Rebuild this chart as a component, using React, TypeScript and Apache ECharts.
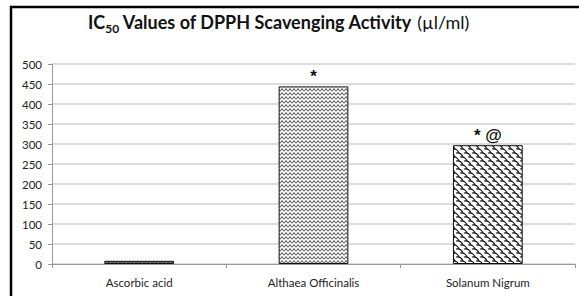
import React, { useEffect, useRef } from "react";
import * as echarts from "echarts";

const categories = ["Ascorbic acid", "Althaea Officinalis", "Solanum Nigrum"];
const values = [8, 444, 297];
const marks = ["", "*", "* @"];
const yTicks = { min: 0, max: 500, interval: 50 };

function makeTile(w: number, h: number, draw: (c: CanvasRenderingContext2D) => void) {
  const cv = document.createElement("canvas");
  cv.width = w;
  cv.height = h;
  const c = cv.getContext("2d")!;
  draw(c);
  return cv;
}

export default function App() {
  const ref = useRef<HTMLDivElement>(null);
  useEffect(() => {
    if (!ref.current) return;
    const chart = echarts.init(ref.current, null, { renderer: "svg" });

    const zigzag = makeTile(4, 4, (c) => {
      c.fillStyle = "#fff";
      c.fillRect(0, 0, 4, 4);
      c.strokeStyle = "#222";
      c.lineWidth = 0.8;
      c.beginPath();
      c.moveTo(0, 3.5);
      c.lineTo(2, 0.5);
      c.lineTo(4, 3.5);
      c.stroke();
    });
    const scales = makeTile(8, 8, (c) => {
      c.fillStyle = "#fff";
      c.fillRect(0, 0, 8, 8);
      c.strokeStyle = "#111";
      c.lineWidth = 1.1;
      for (const [ox, oy] of [[0, 0], [8, 0], [0, 8], [8, 8], [4, 4]]) {
        c.beginPath();
        c.moveTo(ox - 4, oy - 3);
        c.quadraticCurveTo(ox + 1, oy - 4, ox + 3, oy + 1);
        c.stroke();
      }
    });
    const dark = makeTile(4, 4, (c) => {
      c.fillStyle = "#555";
      c.fillRect(0, 0, 4, 4);
      c.fillStyle = "#999";
      c.fillRect(0, 1, 1, 1);
      c.fillRect(2, 2, 1, 1);
    });
    const fills = [dark, zigzag, scales];

    const font = "Lato, 'Open Sans', sans-serif";
    chart.setOption({
      animation: false,
      backgroundColor: "#fff",
      title: {
        left: 83,
        top: 4,
        text: "{a|IC}{b|50}{a| Values of DPPH Scavenging Activity }{c|(µl/ml)}",
        textStyle: {
          rich: {
            a: { fontFamily: font, fontWeight: "bold", fontSize: 18, lineHeight: 26, color: "#111" },
            b: { fontFamily: font, fontWeight: "bold", fontSize: 12, lineHeight: 12, color: "#111", verticalAlign: "top", padding: [13, 0, 0, 0] },
            c: { fontFamily: font, fontWeight: "normal", fontSize: 18, lineHeight: 26, color: "#111" },
          },
        },
      },
      grid: { left: 52, right: 4, top: 64, bottom: 32, containLabel: false },
      xAxis: {
        type: "category",
        data: categories,
        axisLine: { lineStyle: { color: "#999", width: 1 } },
        axisTick: { show: true, alignWithLabel: false, length: 4, lineStyle: { color: "#999" } },
        axisLabel: { fontFamily: font, fontSize: 11.5, color: "#222", margin: 12 },
      },
      yAxis: {
        type: "value",
        min: yTicks.min,
        max: yTicks.max,
        interval: yTicks.interval,
        axisLine: { show: true, lineStyle: { color: "#999" } },
        axisTick: { show: true, length: 4, lineStyle: { color: "#999" } },
        axisLabel: { fontFamily: font, fontSize: 11.5, color: "#222", margin: 10 },
        splitLine: { lineStyle: { color: "#d0d0d0", width: 1.5 } },
      },
      series: [
        {
          type: "bar",
          barWidth: "40%",
          data: values.map((v, i) => ({
            value: v,
            itemStyle: {
              color: { image: fills[i], repeat: "repeat" },
              borderColor: "#111",
              borderWidth: 1,
            },
            label: {
              show: marks[i] !== "",
              position: "top",
              distance: 1,
              formatter: marks[i],
              fontFamily: "Arial, sans-serif",
              fontWeight: "bold",
              fontSize: 17,
              color: "#111",
            },
          })),
        },
      ],
      graphic: [
        {
          type: "polyline",
          shape: { points: [[11, 296], [11, 7], [579, 7]] },
          style: { stroke: "#000", lineWidth: 2.5, fill: null },
          silent: true,
        },
      ],
    });
    return () => chart.dispose();
  }, []);
  return (
    <div
      ref={ref}
      style={{ position: "fixed", left: 0, top: 0, width: 579, height: 296 }}
    />
  );
}
